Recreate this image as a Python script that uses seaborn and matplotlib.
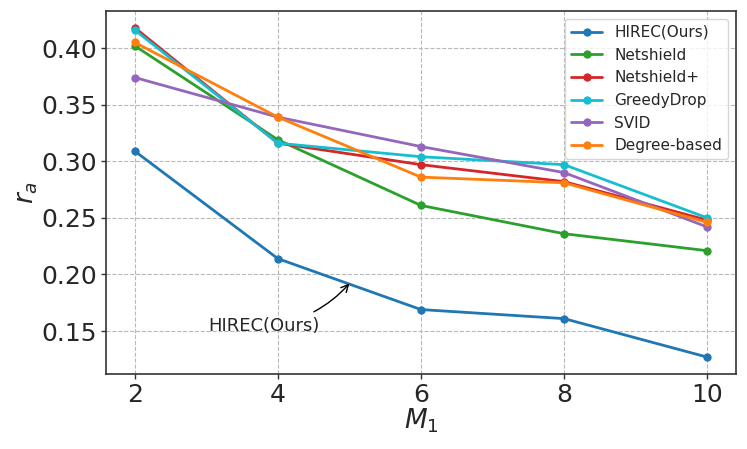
import pandas as pd
import matplotlib
matplotlib.use("Agg")
import matplotlib.pyplot as plt
import seaborn as sns

# values
m1 = [2, 4, 6, 8, 10]
methods = ["HIREC(Ours)", "Netshield", "Netshield+", "GreedyDrop", "SVID", "Degree-based"]
hirec = [0.309, 0.214, 0.169, 0.161, 0.127]
netshield = [0.402, 0.319, 0.261, 0.236, 0.221]
netshield_plus = [0.418, 0.316, 0.297, 0.282, 0.248]
greedydrop = [0.416, 0.316, 0.304, 0.297, 0.250]
svid = [0.374, 0.339, 0.313, 0.290, 0.242]
degree_based = [0.405, 0.339, 0.286, 0.281, 0.246]
colors = ["tab:blue", "tab:green", "tab:red", "tab:cyan", "tab:purple", "tab:orange"]

series = [hirec, netshield, netshield_plus, greedydrop, svid, degree_based]
rows = []
for name, vals in zip(methods, series):
    for x, v in zip(m1, vals):
        rows.append({"M1": x, "ra": v, "method": name})
df = pd.DataFrame(rows)

sns.set_style("white", {"xtick.bottom": True, "ytick.left": True})
fig = plt.figure(figsize=(7.47, 4.49), dpi=100)
ax = fig.add_axes([0.142, 0.168, 0.843, 0.807])

sns.lineplot(data=df, x="M1", y="ra", hue="method", hue_order=methods,
             palette=colors, marker="o", markersize=6, markeredgewidth=0,
             linewidth=2, ax=ax)

ax.grid(True, linestyle="--", color="#b8b8b8", linewidth=0.8)
ax.set_xticks(m1)
ax.tick_params(axis="both", labelsize=18, length=3.5, width=1, color="#333333", pad=3)
ax.set_xlabel("$M_1$", fontsize=19, labelpad=0)
ax.set_ylabel("$r_a$", fontsize=19, labelpad=1)
for s in ax.spines.values():
    s.set_color("#333333")
    s.set_linewidth(1.2)

ax.annotate("HIREC(Ours)", xy=(5, 0.192), xytext=(3.81, 0.1545),
            ha="center", va="center", fontsize=13,
            arrowprops=dict(arrowstyle="->", color="black", lw=1,
                            connectionstyle="arc3,rad=0.2",
                            shrinkA=3, shrinkB=0))

leg = ax.legend(loc="upper right", fontsize=11, frameon=True)
leg.get_frame().set_edgecolor("#cccccc")

fig.savefig("out.png", dpi=100)
